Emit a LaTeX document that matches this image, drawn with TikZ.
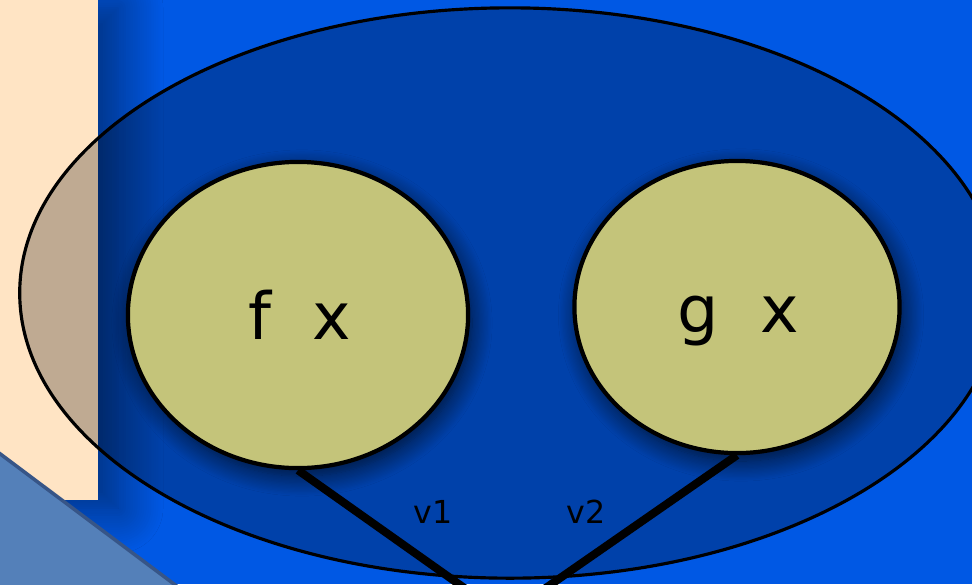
\documentclass[tikz,border=0pt]{standalone}
\usepackage{fontspec}
\setmainfont{DejaVu Sans}
\usetikzlibrary{positioning,shapes.geometric,shadows.blur}
\definecolor{cBack}{RGB}{0,88,228}
\definecolor{cPanel}{RGB}{255,228,196}
\definecolor{cLeaf}{RGB}{196,196,122}
\definecolor{cWedge}{RGB}{84,128,185}
\definecolor{cWedgeEdge}{RGB}{55,85,135}

\begin{document}
\begin{tikzpicture}[x=0.01cm,y=-0.01cm,
   outer/.style={draw,ellipse,line width=0.9pt,fill=black,fill opacity=0.25,minimum width=9.8cm,minimum height=5.7cm},
   leaf/.style={draw,ellipse,line width=1.2pt,fill=cLeaf,
     blur shadow={shadow xshift=0.4mm,shadow yshift=-0.8mm,shadow blur radius=2mm,shadow blur steps=16,shadow opacity=70}},
   leaftext/.style={anchor=base,font=\fontsize{18.5}{22}\selectfont},
   wire/.style={line width=2.3pt},
   lbl/.style={font=\fontsize{9}{11}\selectfont}]
  \useasboundingbox (0,0) rectangle (972,584);
  \clip (0,0) rectangle (972,584);
  % background and side panel
  \fill[cBack] (0,0) rectangle (972,584);
  \fill[cPanel,blur shadow={shadow xshift=2mm,shadow yshift=-0.8mm,shadow blur radius=4.5mm,shadow blur steps=20,shadow opacity=50}]
    (0,0) rectangle (98,500);
  % outer ellipse
  \node[outer] (env) at (510,293) {};
  % the two leaves
  \coordinate (endv1) at (470,592);
  \coordinate (endv2) at (540,592);
  \node[leaf,minimum width=3.4cm,minimum height=3.06cm] (fx) at (298,315) {};
  \node[leaf,minimum width=3.25cm,minimum height=2.92cm] (gx) at (737,307) {};
  \draw[wire] (fx.south) -- (endv1);
  \draw[wire] (gx.south) -- (endv2);
  \node[leaftext] (txtf) at (300,339) {f~~x};
  \node[leaftext] (txtg) at (738,332) {g~~x};
  \node[lbl] (lblv1) at (433,512) {v1};
  \node[lbl] (lblv2) at (586,512) {v2};
  % corner wedge
  \fill[cWedge,draw=cWedgeEdge,line width=1pt] (-5,450) -- (182,590) -- (-5,590) -- cycle;
\end{tikzpicture}
\end{document}
